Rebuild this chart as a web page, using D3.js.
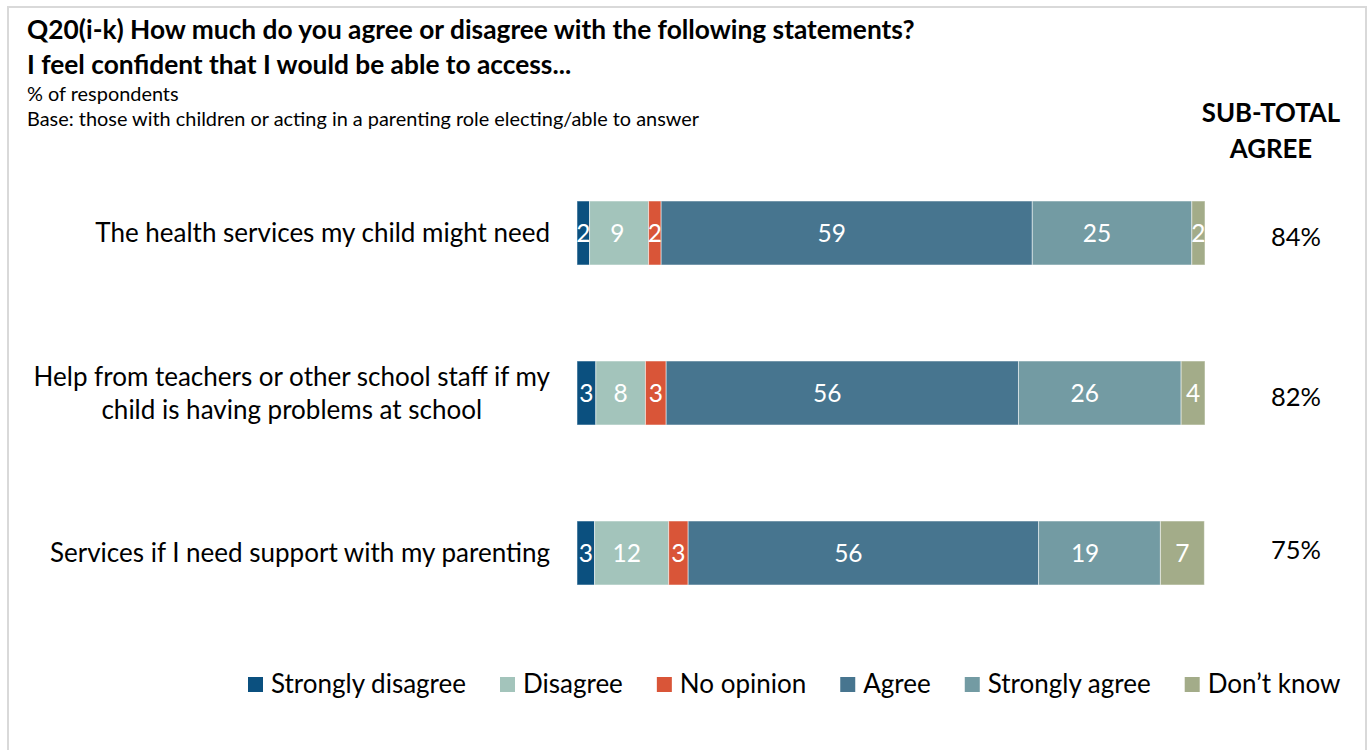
<!DOCTYPE html>
<html><head><meta charset="utf-8">
<script src="https://cdn.jsdelivr.net/npm/d3@7"></script>
<style>
html,body{margin:0;padding:0;background:#fff;}
svg{display:block;font-family:Lato,"Open Sans",sans-serif;}
</style></head>
<body><svg id="chart" width="1372" height="750"></svg>
<script>
// ---- data ----
const categories = [
  ["The health services my child might need"],
  ["Help from teachers or other school staff if my", "child is having problems at school"],
  ["Services if I need support with my parenting"]
];
const seriesNames = ["Strongly disagree", "Disagree", "No opinion", "Agree", "Strongly agree", "Don\u2019t know"];
const seriesColors = ["#0b507f", "#a3c4bb", "#d95538", "#47758f", "#739ba3", "#a3ac89"];
const stronglyDisagree = [2.0, 3.0, 2.8];
const disagree = [9.4, 7.9, 11.8];
const noOpinion = [2.0, 3.3, 3.1];
const agree = [59.1, 56.1, 55.8];
const stronglyAgree = [25.4, 25.9, 19.4];
const dontKnow = [2.1, 3.8, 7.0];
const subTotalAgree = ["84%", "82%", "75%"];
const titleLines = ["Q20(i-k) How much do you agree or disagree with the following statements?", "I feel confident that I would be able to access..."];
const subtitleLines = ["% of respondents", "Base: those with children or acting in a parenting role electing/able to answer"];
const subTotalHeader = ["SUB-TOTAL", "AGREE"];

const series = [stronglyDisagree, disagree, noOpinion, agree, stronglyAgree, dontKnow];
const rows = categories.map((c, i) => {
  const vals = series.map(s => s[i]);
  let acc = 0;
  return { idx: i, lines: c, segs: vals.map((v, k) => { const s = { k, v, x0: acc, x1: acc + v }; acc += v; return s; }) };
});

const svg = d3.select("#chart");

// frame
svg.append("rect").attr("x", 8).attr("y", 7).attr("width", 1358).attr("height", 760)
  .attr("fill", "none").attr("stroke", "#d9d9d9").attr("stroke-width", 2);

// titles
const tt = svg.append("g");
titleLines.forEach((t, i) => tt.append("text").attr("x", 27).attr("y", 39 + i * 35)
  .attr("font-size", 26.3).attr("font-weight", "bold").attr("fill", "#000").text(t));
subtitleLines.forEach((t, i) => tt.append("text").attr("x", 27).attr("y", 101 + i * 25)
  .attr("font-size", 19.9).attr("fill", "#000").text(t));
subTotalHeader.forEach((t, i) => tt.append("text").attr("x", 1271).attr("y", 122 + i * 36)
  .attr("text-anchor", "middle").attr("font-size", 25.8).attr("font-weight", "bold").attr("fill", "#000").text(t));

// scales
const x = d3.scaleLinear().domain([0, 100]).range([577, 1205]);
const y = d3.scaleBand().domain(d3.range(categories.length)).range([153, 633]).paddingInner(0.6).paddingOuter(0.3);
const color = d3.scaleOrdinal().domain(d3.range(seriesNames.length)).range(seriesColors);

const rowG = svg.selectAll("g.row").data(rows).join("g").attr("class", "row")
  .attr("transform", d => `translate(0,${y(d.idx)})`);

rowG.selectAll("rect").data(d => d.segs).join("rect")
  .attr("x", s => x(s.x0)).attr("width", s => x(s.x1) - x(s.x0))
  .attr("y", 0).attr("height", y.bandwidth())
  .attr("fill", s => color(s.k)).attr("stroke", "#ffffff").attr("stroke-opacity", 0.5).attr("stroke-width", 1);

rowG.selectAll("text.val").data(d => d.segs).join("text").attr("class", "val")
  .attr("x", s => {
    const w = x(s.x1) - x(s.x0);
    return (x(s.x0) + x(s.x1)) / 2 - Math.min(15, Math.max(0, (w - 50) * 0.2));
  })
  .attr("y", y.bandwidth() / 2)
  .attr("dy", "0.36em").attr("text-anchor", "middle").attr("font-size", 24.5).attr("fill", "#fff")
  .text(s => Math.round(s.v));

// category labels: block right-aligned, lines centered within block
const labelRight = 550;
rowG.each(function (d) {
  const g = d3.select(this);
  const n = d.lines.length, lh = 33;
  const texts = d.lines.map((l, i) => g.append("text").attr("font-size", 26).attr("fill", "#000")
    .attr("y", y.bandwidth() / 2 + (i - (n - 1) / 2) * lh).attr("dy", "0.36em").text(l));
  const maxW = d3.max(texts, t => t.node().getComputedTextLength());
  texts.forEach(t => t.attr("x", labelRight - maxW / 2).attr("text-anchor", "middle"));
});

// subtotals
rowG.append("text").attr("x", 1296).attr("y", d => y.bandwidth() / 2 + (d.idx === 2 ? -3 : 4)).attr("dy", "0.36em")
  .attr("text-anchor", "middle").attr("font-size", 25.5).attr("fill", "#000")
  .text(d => subTotalAgree[d.idx]);

// legend
const leg = svg.append("g").attr("transform", "translate(248,684)");
let lx = 0;
seriesNames.forEach((name, k) => {
  leg.append("rect").attr("x", lx).attr("y", -7).attr("width", 15).attr("height", 15).attr("fill", color(k));
  const t = leg.append("text").attr("x", lx + 23).attr("y", 0).attr("dy", "0.36em")
    .attr("font-size", 26).attr("fill", "#000").text(name);
  lx += 23 + t.node().getComputedTextLength() + 34;
});
</script></body></html>
